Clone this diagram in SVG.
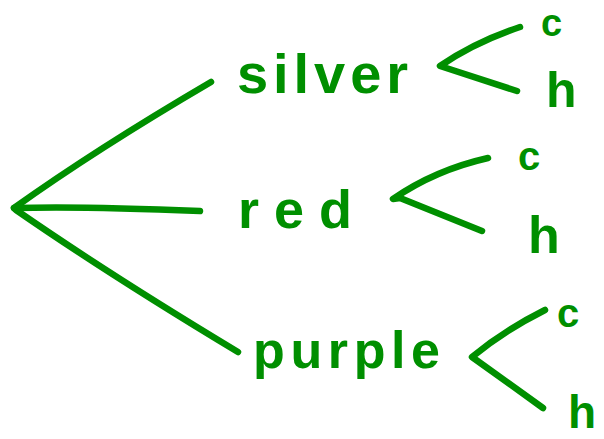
<svg xmlns="http://www.w3.org/2000/svg" width="604" height="439" viewBox="0 0 604 439">
<style>
.ln{fill:none;stroke:#008f00;stroke-width:6.5;stroke-linecap:round;stroke-linejoin:round}
.t{fill:#008f00;font-family:"Liberation Sans","DejaVu Sans",sans-serif;font-weight:bold}
</style>
<rect width="604" height="439" fill="#ffffff"/>
<g id="connectors">
<path class="ln" d="M14,208 Q95,150 211,82"/>
<path class="ln" d="M14,208 Q80,206 200,211"/>
<path class="ln" d="M16,210 Q110,275 238,352"/>
<path class="ln" d="M520,27 Q475,42 440,66 L517,91"/>
<path class="ln" d="M488,158 Q435,170 393,199 L400,198 L482,231"/>
<path class="ln" d="M545,310 Q505,330 472,357 L543,408"/>
</g>
<g id="silver"><text class="t" x="237" y="93" font-size="56" textLength="171" lengthAdjust="spacing">silver</text></g>
<g id="red"><text class="t" x="238" y="228" font-size="54" textLength="114" lengthAdjust="spacing">red</text></g>
<g id="purple"><text class="t" x="253" y="368" font-size="52" textLength="187" lengthAdjust="spacing">purple</text></g>
<g id="silver-c"><text class="t" x="541" y="36" font-size="38">c</text></g>
<g id="silver-h"><text class="t" x="546" y="107" font-size="50">h</text></g>
<g id="red-c"><text class="t" x="518" y="170" font-size="40">c</text></g>
<g id="red-h"><text class="t" x="528" y="253" font-size="52">h</text></g>
<g id="purple-c"><text class="t" x="557" y="327" font-size="40">c</text></g>
<g id="purple-h"><text class="t" x="568" y="428" font-size="46">h</text></g>
</svg>
